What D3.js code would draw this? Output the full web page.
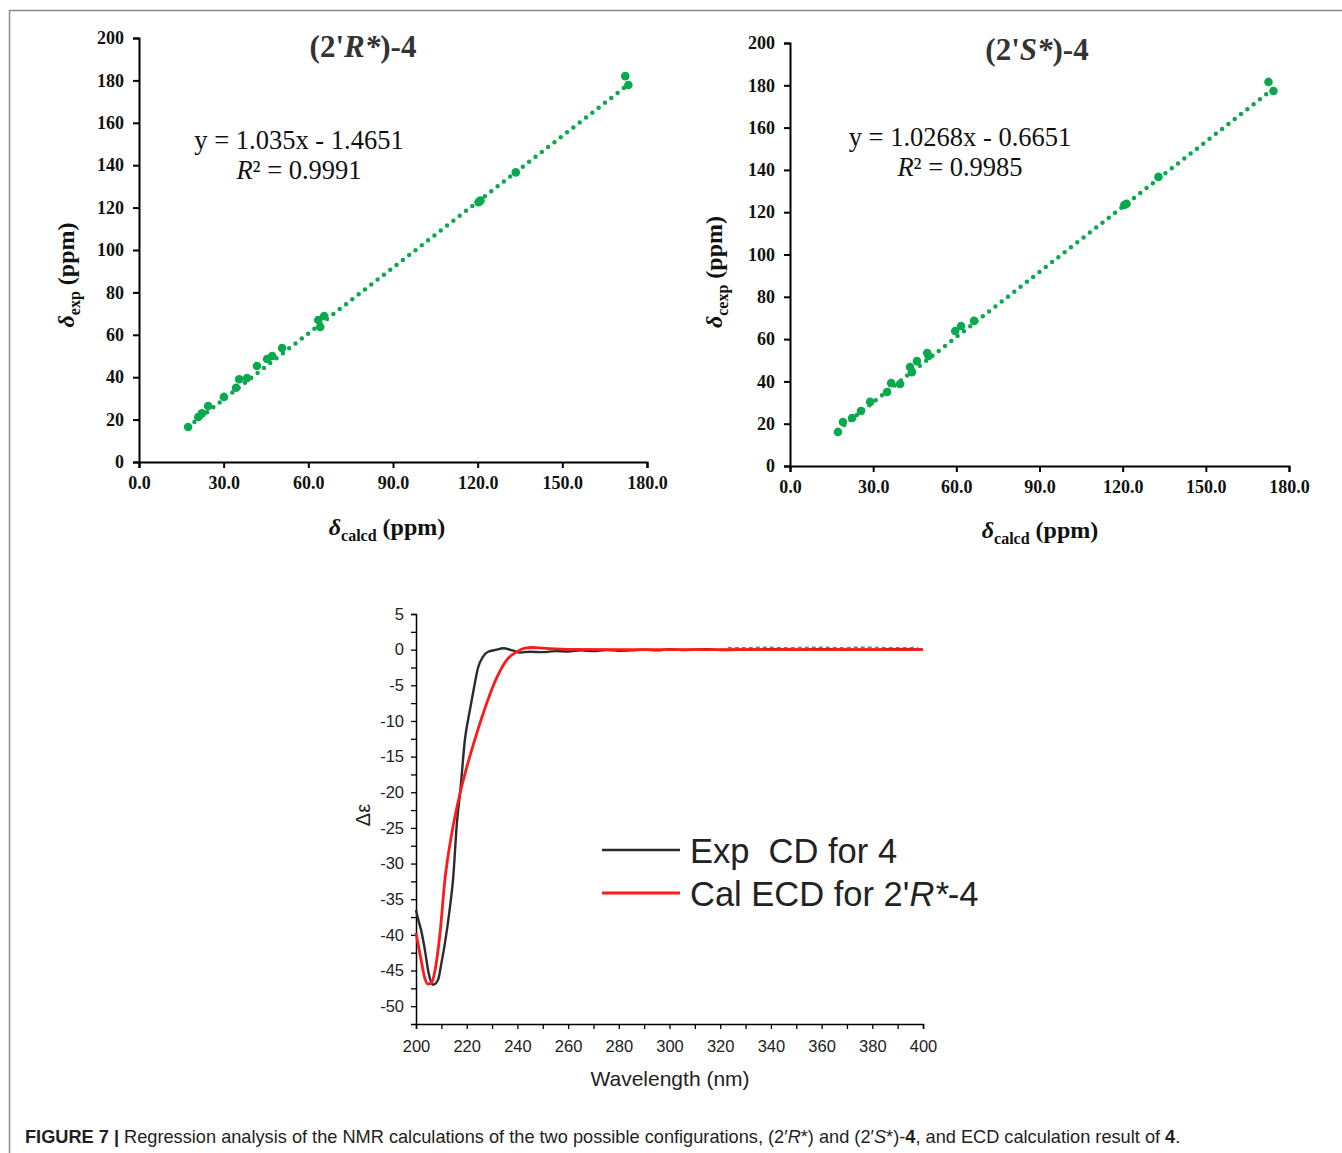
<!DOCTYPE html>
<html><head><meta charset="utf-8">
<script src="https://cdn.jsdelivr.net/npm/d3@7"></script>
<style>body{margin:0;background:#fff} svg{display:block}</style>
</head><body><svg id="fig" width="1342" height="1153"></svg>
<script>
// NMR regression data, (2'R*)-4 and (2'S*)-4
var rCalc = [17.4,21,22.3,24.5,30.1,34.4,35.5,38.3,41.8,45.4,47.2,50.7,63.5,64.2,65.6,120.3,121,133.5,172.3,173.4];
var rExp  = [16.5,21.2,23,26.4,30.7,35,39,39.6,45.3,48.6,50,53.8,67,63.7,68.9,122.5,123.3,136.6,182,177.8];
var sCalc = [17.3,19.1,22.4,25.6,28.9,35,36.5,39.7,43.3,44,45.8,49.5,50,59.6,61.7,66.4,120.6,121.4,132.9,172.6,174.4];
var sExp  = [16.1,20.8,22.7,26,30.3,35,39.2,38.8,46.8,44.4,49.6,53.4,52,63.8,66.2,68.6,123.4,124,136.7,181.6,177.3];
var fitSlope = [1.035, 1.0268];
var fitIntercept = [-1.4651, -0.6651];
var yTicksNmr = [0,20,40,60,80,100,120,140,160,180,200];
var xTicksNmr = [0,30,60,90,120,150,180];

// ECD data
var expX = [200,201,202,203.5,205,206.7,208.7,210,211.4,213.4,214.6,216.2,217.4,219.3,221.3,222.9,224.5,226.4,228.4,231.9,234.3,238,241,245,250,255,260,265,270,275,280,285,290,295,300,305,310,315,320,330,340,350,360,370,380,390,400];
var expY = [-36.5,-38,-39.3,-42.1,-45.4,-47,-46.3,-44,-41.2,-36.1,-32.3,-24,-20.1,-12.6,-8.4,-5.3,-2.5,-1,-0.3,0,0.2,-0.1,-0.4,-0.3,-0.35,-0.2,-0.25,-0.1,-0.2,-0.05,-0.15,-0.1,0,-0.1,0.05,-0.05,0,0.05,-0.05,0,0.05,0,0.05,0,0,0.05,0];
var calX = [200,202,203.5,204.7,206.3,207.5,209.5,211.4,214,217.4,220.1,224,228,231.9,235.9,239.8,243,246,250,255,260,280,300,350,400];
var calY = [-39.7,-43.5,-46.1,-46.9,-46.6,-45,-39.7,-32.3,-26,-20.1,-16.4,-11.7,-7.4,-3.9,-1.4,-0.3,0.2,0.3,0.2,0.1,0.05,0,0,0,0];
var tealX = [323,330,338,345,352,360,368,375,383,390,398];
var tealY = [0.3,0.25,0.35,0.25,0.3,0.35,0.25,0.35,0.3,0.25,0.3];
var ecdYTicks = d3.range(-50, 5.01, 2.5);
var ecdXTicks = d3.range(200, 400.1, 10);

var svg = d3.select("#fig");
var green = "#0aa84f";
var serif = "'Liberation Serif','Times New Roman',serif";
var sans = "'Liberation Sans',Arial,sans-serif";

// frame
svg.append("path").attr("d","M9.5,1153V10.5H1342").attr("fill","none").attr("stroke","#8a8a8a").attr("stroke-width",1.5);

function regPanel(o) {
  var x = d3.scaleLinear().domain([0,180]).range(o.xr);
  var y = d3.scaleLinear().domain([0,200]).range(o.yr);
  var g = svg.append("g");

  var ya = g.append("g").attr("transform","translate("+o.xr[0]+",0)")
    .call(d3.axisLeft(y).tickValues(yTicksNmr).tickSize(6).tickPadding(9).tickFormat(d3.format("d")));
  var xa = g.append("g").attr("transform","translate(0,"+o.yr[0]+")")
    .call(d3.axisBottom(x).tickValues(xTicksNmr).tickSize(6).tickPadding(8).tickFormat(d3.format(".1f")));
  [ya,xa].forEach(function(a){
    a.attr("font-family",serif).attr("font-size",18).attr("font-weight","bold");
    a.select(".domain").attr("stroke-width",2);
    a.selectAll(".tick line").attr("stroke-width",2);
    a.selectAll("text").attr("fill","#111");
  });

  // dotted trend line
  var xs = d3.extent(o.cx);
  g.append("line")
    .attr("x1",x(xs[0])).attr("y1",y(o.m*xs[0]+o.b))
    .attr("x2",x(xs[1])).attr("y2",y(o.m*xs[1]+o.b))
    .attr("stroke",green).attr("stroke-width",4.5).attr("stroke-linecap","round").attr("stroke-dasharray","0 8");

  g.selectAll(".pt").data(o.cx).enter().append("circle")
    .attr("cx",function(d){return x(d);})
    .attr("cy",function(d,i){return y(o.ey[i]);})
    .attr("r",4.3).attr("fill",green);

  // title
  var t = g.append("text").attr("x",o.title[0]).attr("y",o.title[1]).attr("text-anchor","middle")
    .attr("font-family",serif).attr("font-size",31).attr("font-weight","bold").attr("fill","#333");
  t.append("tspan").text("(2'");
  t.append("tspan").attr("font-style","italic").text(o.letter+"*");
  t.append("tspan").text(")-4");

  g.append("text").attr("x",o.eq[0]).attr("y",o.eq[1]).attr("text-anchor","middle")
    .attr("font-family",serif).attr("font-size",26.5).attr("fill","#111").text(o.eqText);
  var r = g.append("text").attr("x",o.eq[0]).attr("y",o.eq[1]+30).attr("text-anchor","middle")
    .attr("font-family",serif).attr("font-size",26.5).attr("fill","#111");
  r.append("tspan").attr("font-style","italic").text("R");
  r.append("tspan").text("² = "+o.r2);

  // axis titles
  var yl = g.append("text").attr("transform","translate("+o.yl[0]+","+o.yl[1]+") rotate(-90)")
    .attr("text-anchor","middle").attr("font-family",serif).attr("font-size",24).attr("font-weight","bold").attr("fill","#111");
  yl.append("tspan").attr("font-style","italic").text("δ");
  yl.append("tspan").attr("font-size",16).attr("dy",6).text(o.sub);
  yl.append("tspan").attr("dy",-6).text(" (ppm)");

  var xl = g.append("text").attr("x",o.xl[0]).attr("y",o.xl[1]).attr("text-anchor","middle")
    .attr("font-family",serif).attr("font-size",24).attr("font-weight","bold").attr("fill","#111");
  xl.append("tspan").attr("font-style","italic").text("δ");
  xl.append("tspan").attr("font-size",16).attr("dy",6).text("calcd");
  xl.append("tspan").attr("dy",-6).text(" (ppm)");
}

regPanel({xr:[139,647], yr:[462,38], cx:rCalc, ey:rExp, m:fitSlope[0], b:fitIntercept[0],
  title:[363,57], letter:"R", eq:[299,149], eqText:"y = 1.035x - 1.4651", r2:"0.9991",
  yl:[74,275], sub:"exp", xl:[387,535]});
regPanel({xr:[790,1289], yr:[466,43], cx:sCalc, ey:sExp, m:fitSlope[1], b:fitIntercept[1],
  title:[1037,60], letter:"S", eq:[960,146], eqText:"y = 1.0268x - 0.6651", r2:"0.9985",
  yl:[722,272], sub:"cexp", xl:[1040,538]});

// ECD panel
var xE = d3.scaleLinear().domain([200,400]).range([416,923]);
var yE = d3.scaleLinear().domain([-52.5,5]).range([1024,614]);
var ge = svg.append("g");
var yea = ge.append("g").attr("transform","translate(416,0)")
  .call(d3.axisLeft(yE).tickValues(ecdYTicks).tickSize(5).tickPadding(7)
    .tickFormat(function(d){return d%5===0 ? d3.format("d")(d).replace("−","-") : "";}));
var xea = ge.append("g").attr("transform","translate(0,1024)")
  .call(d3.axisBottom(xE).tickValues(ecdXTicks).tickSize(5).tickPadding(11)
    .tickFormat(function(d){return d%20===0 ? d : "";}));
[yea,xea].forEach(function(a){
  a.attr("font-family",sans).attr("font-size",16.5);
  a.select(".domain").attr("stroke-width",1.5);
  a.selectAll(".tick line").attr("stroke-width",1.3);
  a.selectAll("text").attr("fill","#222");
});

var line = d3.line().curve(d3.curveMonotoneX);
function pts(xa, ya){ return xa.map(function(d,i){return [xE(d), yE(ya[i])];}); }
ge.append("path").attr("d",line(pts(tealX,tealY))).attr("fill","none")
  .attr("stroke","#2a9d9b").attr("stroke-width",1.5).attr("stroke-dasharray","4 3");
ge.append("path").attr("d",line(pts(expX,expY))).attr("fill","none")
  .attr("stroke","#2b2b2b").attr("stroke-width",2.4);
ge.append("path").attr("d",line(pts(calX,calY))).attr("fill","none")
  .attr("stroke","#ff1a1a").attr("stroke-width",2.8);

ge.append("text").attr("transform","translate(370,815) rotate(-90)").attr("text-anchor","middle")
  .attr("font-family",sans).attr("font-size",20).attr("fill","#222").text("Δε");
ge.append("text").attr("x",670).attr("y",1086).attr("text-anchor","middle")
  .attr("font-family",sans).attr("font-size",21).attr("fill","#222").text("Wavelength (nm)");

// legend
ge.append("line").attr("x1",602).attr("x2",680).attr("y1",850).attr("y2",850).attr("stroke","#2b2b2b").attr("stroke-width",2.4);
ge.append("line").attr("x1",602).attr("x2",680).attr("y1",893).attr("y2",893).attr("stroke","#ff1a1a").attr("stroke-width",2.8);
ge.append("text").attr("x",690).attr("y",863).attr("font-family",sans).attr("font-size",34.5).attr("fill","#222")
  .style("white-space","pre").text("Exp  CD for 4");
var l2 = ge.append("text").attr("x",690).attr("y",906).attr("font-family",sans).attr("font-size",34.5).attr("fill","#222");
l2.append("tspan").text("Cal ECD for 2'");
l2.append("tspan").attr("font-style","italic").text("R*");
l2.append("tspan").text("-4");

// caption
var cap = svg.append("text").attr("x",25).attr("y",1143).attr("font-family",sans).attr("font-size",18.2).attr("fill","#231f20");
cap.append("tspan").attr("font-weight","bold").text("FIGURE 7 | ");
cap.append("tspan").text("Regression analysis of the NMR calculations of the two possible configurations, (2′");
cap.append("tspan").attr("font-style","italic").text("R");
cap.append("tspan").text("*) and (2′");
cap.append("tspan").attr("font-style","italic").text("S");
cap.append("tspan").text("*)-");
cap.append("tspan").attr("font-weight","bold").text("4");
cap.append("tspan").text(", and ECD calculation result of ");
cap.append("tspan").attr("font-weight","bold").text("4");
cap.append("tspan").text(".");
</script></body></html>
